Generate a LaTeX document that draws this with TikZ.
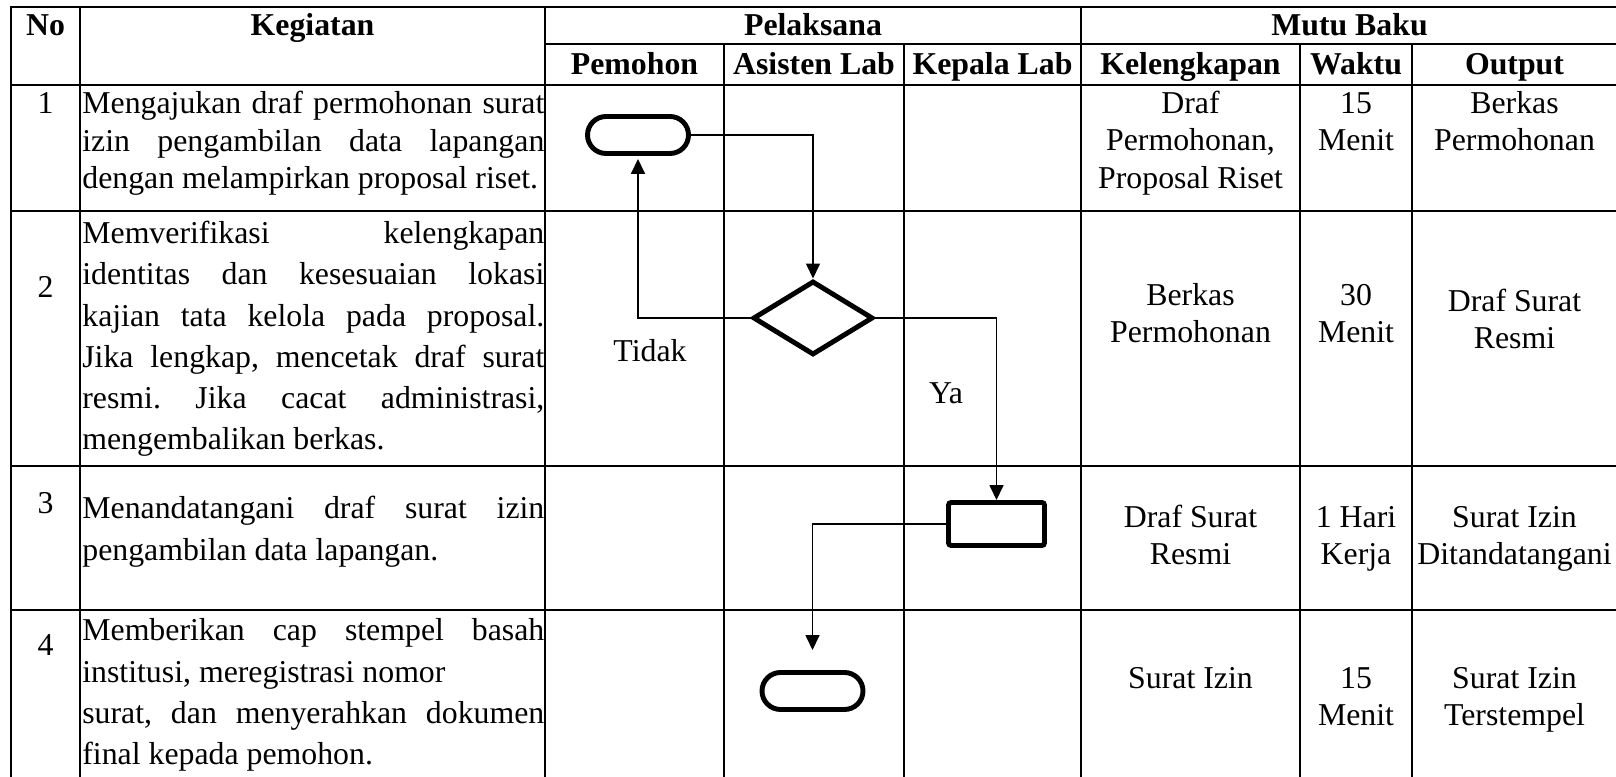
\documentclass[tikz,border=0pt]{standalone}
\usepackage{fontspec}
\setmainfont{Liberation Serif}
\usetikzlibrary{shapes.geometric,arrows.meta}
\hbadness=10000
\frenchspacing

\begin{document}
\begin{tikzpicture}[
        grid/.style={line width=1.2pt},
        head/.style={anchor=base,inner sep=0pt,font=\fontsize{18.1}{21.06}\selectfont\bfseries},
        num/.style={anchor=base,inner sep=0pt,font=\fontsize{18.1}{21.06}\selectfont},
        kegtext/.style={anchor=base west,inner sep=0pt,text width=9.24cm,align=justify,font=\fontsize{18.1}{23.34}\selectfont},
        mututext/.style={anchor=base,inner sep=0pt,text width=4cm,align=flush center,font=\fontsize{18.1}{21.06}\selectfont},
        terminal/.style={draw,line width=2.8pt,rounded corners=0.37cm,minimum width=2.02cm,minimum height=0.74cm,inner sep=0pt},
        decision/.style={draw,diamond,line width=2.8pt,minimum width=2.4cm,minimum height=1.48cm,inner sep=0pt},
        process/.style={draw,line width=2.8pt,rounded corners=1.5pt,minimum width=1.92cm,minimum height=0.86cm,inner sep=0pt},
        flow/.style={line width=0.9pt,-{Triangle[length=0.3cm,width=0.28cm]}},
        branch/.style={inner sep=0pt,font=\fontsize{18.1}{21.06}\selectfont}
    ]
                \useasboundingbox (0,0) rectangle (32.32,15.54);
                \clip (0,0) rectangle (32.32,15.54);

                % garis tabel
                \draw[grid] (0.22,15.40) rectangle (32.36,-0.16);
                \draw[grid] (0.22,13.84) -- (32.36,13.84);
                \draw[grid] (10.90,14.66) -- (32.36,14.66);
                \draw[grid] (0.22,11.32) -- (32.36,11.32);
                \draw[grid] (0.22,6.22) -- (32.36,6.22);
                \draw[grid] (0.22,3.34) -- (32.36,3.34);

                \draw[grid] (1.60,15.40) -- (1.60,-0.16);
                \draw[grid] (10.90,15.40) -- (10.90,-0.16);
                \draw[grid] (21.62,15.40) -- (21.62,-0.16);
                \draw[grid] (14.48,14.66) -- (14.48,-0.16);
                \draw[grid] (18.08,14.66) -- (18.08,-0.16);
                \draw[grid] (26.00,14.66) -- (26.00,-0.16);
                \draw[grid] (28.24,14.66) -- (28.24,-0.16);

                % kepala tabel
                \node[head] (hno) at (0.91,14.82) {No};
                \node[head] (hkeg) at (6.25,14.82) {Kegiatan};
                \node[head] (hpel) at (16.26,14.82) {Pelaksana};
                \node[head] (hmutu) at (26.99,14.82) {Mutu Baku};
                \node[head] (hpem) at (12.69,14.04) {Pemohon};
                \node[head] (hasis) at (16.28,14.04) {Asisten Lab};
                \node[head] (hkep) at (19.85,14.04) {Kepala Lab};
                \node[head] (hkel) at (23.81,14.04) {Kelengkapan};
                \node[head] (hwak) at (27.12,14.04) {Waktu};
                \node[head] (hout) at (30.29,14.04) {Output};

                % nomor dan kegiatan
                \node[num] (n1) at (0.91,13.26) {1};
                \node[num] (n2) at (0.91,9.58) {2};
                \node[num] (n3) at (0.91,5.26) {3};
                \node[num] (n4) at (0.91,2.42) {4};

                \node[kegtext,font=\fontsize{18.1}{21.34}\selectfont] (keg1) at (1.64,13.26) {Mengajukan draf permohonan surat\linebreak izin pengambilan data lapangan\linebreak dengan melampirkan proposal riset.};
                \node[kegtext] (keg2) at (1.64,10.66) {Memverifikasi kelengkapan\linebreak identitas dan kesesuaian lokasi\linebreak kajian tata kelola pada proposal.\linebreak Jika lengkap, mencetak draf surat\linebreak resmi. Jika cacat administrasi,\linebreak mengembalikan berkas.};
                \node[kegtext] (keg3) at (1.64,5.16) {Menandatangani draf surat izin\linebreak pengambilan data lapangan.};
                \node[kegtext] (keg4) at (1.64,2.72) {Memberikan cap stempel basah\linebreak institusi, meregistrasi nomor\newline surat, dan menyerahkan dokumen\linebreak final kepada pemohon.};

                % mutu baku
                \node[mututext] (kel1) at (23.81,13.26) {Draf\\Permohonan,\\Proposal Riset};
                \node[mututext] (wak1) at (27.12,13.26) {15\\Menit};
                \node[mututext] (out1) at (30.29,13.26) {Berkas\\Permohonan};

                \node[mututext] (kel2) at (23.81,9.43) {Berkas\\Permohonan};
                \node[mututext] (wak2) at (27.12,9.43) {30\\Menit};
                \node[mututext] (out2) at (30.29,9.30) {Draf Surat\\Resmi};

                \node[mututext] (kel3) at (23.81,4.98) {Draf Surat\\Resmi};
                \node[mututext] (wak3) at (27.12,4.98) {1 Hari\\Kerja};
                \node[mututext] (out3) at (30.29,4.98) {Surat Izin\\Ditandatangani};

                \node[mututext] (kel4) at (23.81,1.77) {Surat Izin};
                \node[mututext] (wak4) at (27.12,1.77) {15\\Menit};
                \node[mututext] (out4) at (30.29,1.77) {Surat Izin\\Terstempel};

                % bagan alir
                \node[terminal] (start) at (12.76,12.84) {};
                \node[decision] (cek) at (16.26,9.18) {};
                \node[process] (ttd) at (19.93,5.06) {};
                \node[terminal] (finish) at (16.25,1.72) {};

                \draw[flow] (start.east) -| (cek.north);
                \draw[flow,shorten >=0.06cm] (cek.west) -| (start.south);
                \draw[flow] (cek.east) -| (ttd.north);
                \draw[flow,shorten >=0.4cm] (ttd.west) -| (finish.north);

                \node[branch] (lbltidak) at (13.00,8.52) {Tidak};
                \node[branch] (lblya) at (18.92,7.68) {Ya};
\end{tikzpicture}
\end{document}
